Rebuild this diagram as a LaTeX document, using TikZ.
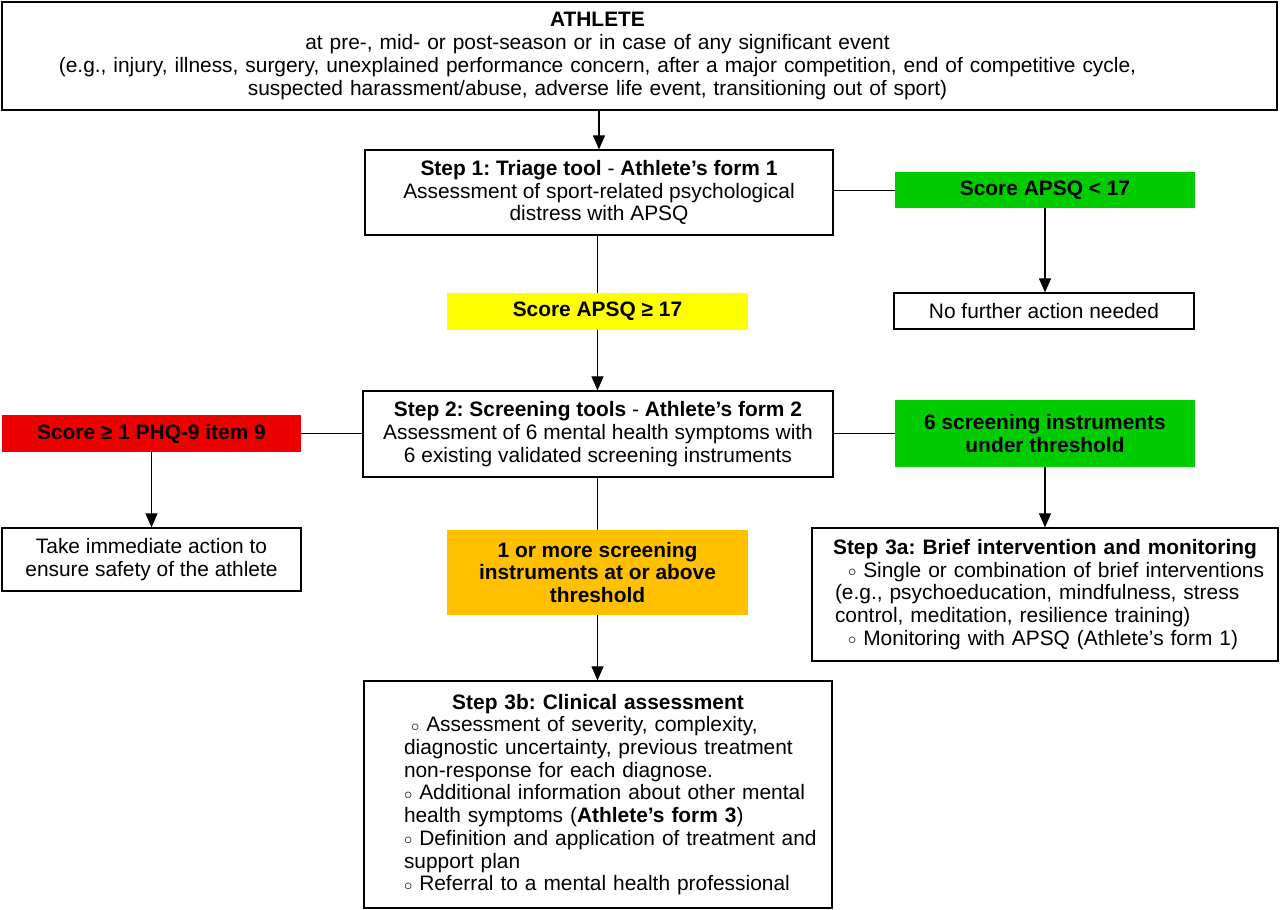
\documentclass[tikz,border=0pt]{standalone}
\usepackage{fontspec}
\usepackage{graphicx}
\setmainfont{Liberation Sans}
\usetikzlibrary{arrows.meta}
\definecolor{okgreen}{RGB}{0,204,0}
\definecolor{alertred}{RGB}{238,0,0}
\definecolor{warnyellow}{RGB}{255,255,0}
\definecolor{warnorange}{RGB}{255,192,0}
\newcommand{\blt}{\raisebox{.05ex}{\scalebox{0.8}{$\circ$}}\ }

\begin{document}
\frenchspacing
\fontsize{20.9}{22.7}\selectfont
\begin{tikzpicture}[x=1pt,y=-1pt,
    box/.style={draw,line width=1.2pt,align=center,inner sep=0pt},
    tag/.style={fill=#1,align=center,inner sep=0pt,font=\bfseries},
    stepbox/.style={draw,line width=1.2pt,inner xsep=8pt,inner ysep=0pt},
    arr/.style={-{Triangle[width=12pt,length=14pt]},line width=1.1pt},
    link/.style={line width=0.8pt}]
    \useasboundingbox (0,0) rectangle (1280,910);

    \node[draw,line width=1.2pt,inner sep=0pt,minimum width=1275,minimum height=108,text width=1250] (athlete) at (639.5,56)
        {\parindent=0pt\leftskip=0pt plus 1fil\rightskip=84pt plus 1fil\parfillskip=0pt
         \textbf{ATHLETE}\par
         at pre-, mid- or post-season or in case of any significant event\par
         (e.g., injury, illness, surgery, unexplained performance concern, after a major competition, end of competitive cycle,\par
         suspected harassment/abuse, adverse life event, transitioning out of sport)\par};
    \node[box,minimum width=468,minimum height=85] (step1) at (599,192.5)
        {\textbf{Step 1: Triage tool} - \textbf{Athlete’s form 1}\\
         Assessment of sport-related psychological\\ distress with APSQ};
    \node[tag=okgreen,minimum width=300,minimum height=36] (low) at (1045,190) {Score APSQ < 17};
    \node[box,minimum width=300,minimum height=36] (nofurther) at (1044,311) {No further action needed};
    \node[tag=warnyellow,minimum width=301,minimum height=37] (high) at (597.5,311.5) {Score APSQ ≥ 17};

    \node[box,minimum width=470,minimum height=86] (step2) at (598,434)
        {\textbf{Step 2: Screening tools} - \textbf{Athlete’s form 2}\\
         Assessment of 6 mental health symptoms with\\ 6 existing validated screening instruments};
    \node[tag=alertred,minimum width=299,minimum height=37] (urgent) at (151.5,433.5) {Score ≥ 1 PHQ-9 item 9};
    \node[box,minimum width=299,minimum height=63] (safety) at (151.5,559.5)
        {Take immediate action to\\ ensure safety of the athlete};
    \node[tag=okgreen,minimum width=300,minimum height=67] (under) at (1045,433.5)
        {6 screening instruments\\ under threshold};
    \node[tag=warnorange,minimum width=301,minimum height=85] (above) at (597.5,572.5)
        {1 or more screening\\ instruments at or above\\ threshold};

    \node[stepbox,minimum width=466,minimum height=133,text width=450] (step3a) at (1045,594.5)
        {\parindent=0pt
         {\centering\bfseries Step 3a: Brief intervention and monitoring\par}
         \raggedright\leftskip=15pt
         \hspace*{13pt}\blt Single or combination of brief interventions\\
         (e.g., psychoeducation, mindfulness, stress\\
         control, meditation, resilience training)\\
         \hspace*{13pt}\blt Monitoring with APSQ (Athlete’s form 1)\par};
    \node[stepbox,minimum width=468,minimum height=227,text width=452] (step3b) at (598,794.5)
        {\parindent=0pt
         {\centering\bfseries Step 3b: Clinical assessment\par}
         \raggedright\leftskip=32pt
         \hspace*{7pt}\blt Assessment of severity, complexity,\\
         diagnostic uncertainty, previous treatment\\
         non-response for each diagnose.\\
         \blt Additional information about other mental\\
         health symptoms (\textbf{Athlete’s form 3})\\
         \blt Definition and application of treatment and\\
         support plan\\
         \blt Referral to a mental health professional\par};

    % connectors
    \draw[arr] (step1.north |- athlete.south) -- (step1.north);
    \draw[link] (step1.east |- low.west) -- (low.west);
    \draw[arr] (low.south) -- (low.south |- nofurther.north);
    \draw[link] (high.north |- step1.south) -- (high.north);
    \draw[arr] (high.south) -- (high.south |- step2.north);
    \draw[link] (urgent.east) -- (urgent.east -| step2.west);
    \draw[link] (step2.east |- under.west) -- (under.west);
    \draw[arr] (urgent.south) -- (urgent.south |- safety.north);
    \draw[arr] (under.south) -- (under.south |- step3a.north);
    \draw[link] (above.north |- step2.south) -- (above.north);
    \draw[arr] (above.south) -- (above.south |- step3b.north);
\end{tikzpicture}
\end{document}
